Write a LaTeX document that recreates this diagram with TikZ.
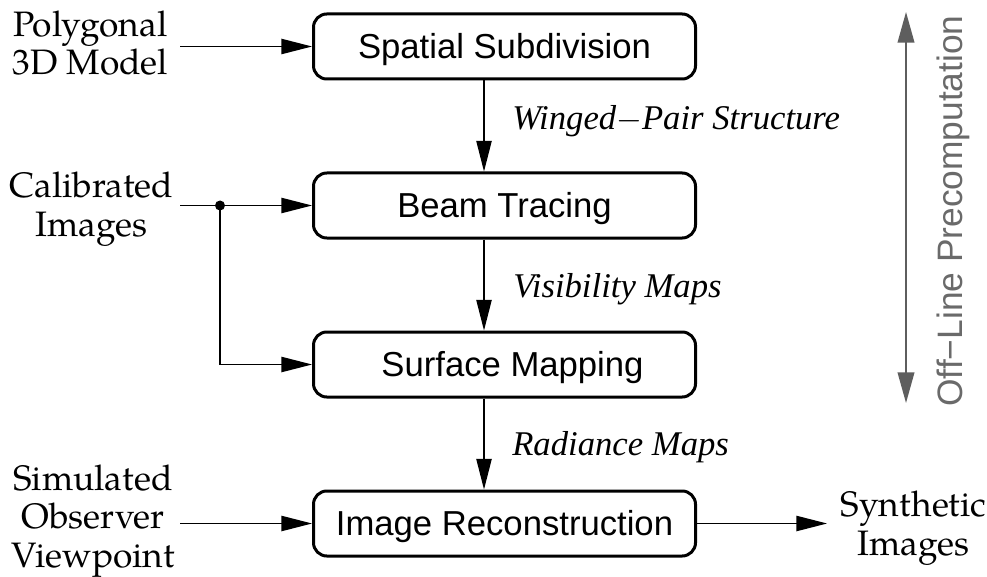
\documentclass[tikz,border=0pt]{standalone}
\usepackage{fontspec}
\setmainfont{Liberation Serif}
\setsansfont{Liberation Sans}
\newfontfamily\palfont{texgyrepagella}[Extension=.otf,UprightFont=*-regular,ItalicFont=*-italic]
\usetikzlibrary{arrows.meta}
\definecolor{railgray}{HTML}{5E5E5E}
\definecolor{railtext}{HTML}{6A6A6A}

\begin{document}
\begin{tikzpicture}[x=0.75pt,y=-0.75pt,
  stage/.style={draw, line width=2.25pt, rounded corners=10pt,
    minimum width=286.5pt, minimum height=48.75pt, inner sep=0pt,
    font=\sffamily\fontsize{26}{30}\selectfont, text height=18.6pt, text depth=0pt},
  source/.style={align=center, anchor=base, inner sep=0pt,
    font=\palfont\fontsize{26.5}{28.8}\selectfont},
  flowlabel/.style={anchor=base west, inner sep=0pt,
    font=\itshape\fontsize{26}{30}\selectfont},
  arr/.style={line width=1pt, -{Triangle[length=23pt,width=11.5pt]}},
  railarrow/.style={draw=railgray, line width=1.3pt,
    {Triangle[length=23pt,width=12.5pt]}-{Triangle[length=23pt,width=12.5pt]}}
]
\useasboundingbox (0,0) rectangle (987,577);

% processing stages
\node[stage] (b1) at (504.5,46.5)  {Spatial Subdivision};
\node[stage] (b2) at (504.5,205.5) {Beam Tracing};
\node[stage] (b3) at (504.5,364.5) {\hspace*{12pt}Surface Mapping};
\node[stage] (b4) at (504.5,523.5) {Image Reconstruction};

% inputs and output (anchored at the baseline of their last line)
\node[source] (poly)  at (90.5,75)  {Polygonal\\3D Model};
\node[source] (cal)   at (91.5,236) {Calibrated\\Images};
\node[source] (sim)   at (93,567)   {Simulated\\Observer\\Viewpoint};
\node[source] (synth) at (913.5,555) {Synthetic\\Images};

% data passed between stages
\node[flowlabel] (l1) at (512,130) {Winged$-$Pair Structure};
\node[flowlabel] (l2) at (513,297) {Visibility Maps};
\node[flowlabel] (l3) at (512,455) {Radiance Maps};

% free ends of connectors
\coordinate (axis)  at (484,0);
\coordinate (c-poly) at (180,46.5);
\coordinate (c-cal)  at (180,205.5);
\coordinate (split)  at (220,205.5);
\coordinate (c-sim)  at (180,523.5);
\coordinate (c-out)  at (827,523.5);

\draw[arr] (c-poly) -- (b1.west);
\draw[arr] (c-cal) -- (b2.west);
\draw[arr] (split) |- (b3.west);
\fill (split) circle (3.75pt);
\draw[arr] (c-sim) -- (b4.west);
\draw[arr] (b4.east) -- (c-out);

\draw[arr] (b1.south -| axis) -- (b2.north -| axis);
\draw[arr] (b2.south -| axis) -- (b3.north -| axis);
\draw[arr] (b3.south -| axis) -- (b4.north -| axis);

% off-line span
\coordinate (rail-top) at (906,12);
\coordinate (rail-bot) at (906,403);
\draw[railarrow] (rail-top) -- (rail-bot);
\node[rotate=90, anchor=base, inner sep=0pt, text=railtext,
  font=\sffamily\fontsize{26.5}{30}\selectfont] (rail-lbl) at (962,211)
  {Off−Line Precomputation};
\end{tikzpicture}
\end{document}
